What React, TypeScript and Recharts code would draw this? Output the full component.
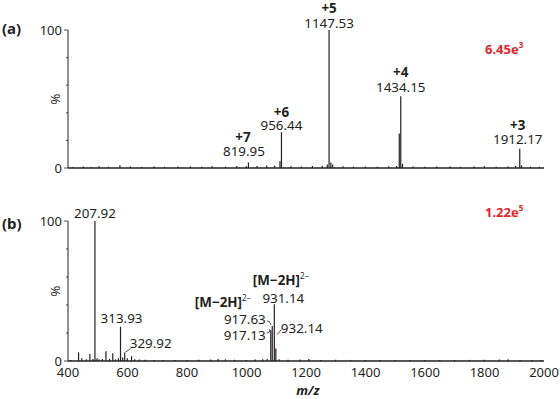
import React from 'react';
import { BarChart, Bar, XAxis, YAxis, LabelList } from 'recharts';

const FONT = '"Noto Sans", "DejaVu Sans", Arial, sans-serif';
const INK = '#231f20';
const RED = '#e3242b';

// ---------- Panel (a) ----------
const aPeakMz = [1007, 1118, 1278, 1519, 1919];
const aPeakInt = [4, 26, 100, 52, 14];
const aChargeLabels = ['+7', '+6', '+5', '+4', '+3'];
const aMassLabels = ['819.95', '956.44', '1147.53', '1434.15', '1912.17'];
const aMinorMz = [
  415, 452, 478, 505, 536, 575, 610, 648, 690, 725,
  770, 812, 850, 885, 930, 968, 1000, 1036, 1068, 1095,
  1113, 1150, 1185, 1222, 1255, 1272, 1284, 1290, 1325, 1360,
  1400, 1440, 1478, 1505, 1514, 1525, 1560, 1600, 1640, 1685,
  1720, 1765, 1800, 1840, 1880, 1905, 1925, 1955, 1985,
];
const aMinorInt = [
  0.8, 1.0, 0.7, 1.2, 0.9, 2.0, 1.0, 0.8, 1.1, 0.9,
  1.0, 1.2, 0.9, 1.3, 1.0, 1.4, 1.2, 1.5, 1.8, 1.6,
  5.0, 1.3, 1.1, 1.4, 1.6, 2.5, 4.0, 2.5, 1.2, 1.0,
  1.1, 0.9, 1.2, 1.4, 25, 3.0, 1.0, 0.9, 1.1, 1.0,
  0.8, 1.0, 1.2, 0.9, 1.1, 1.5, 2.0, 1.0, 0.9,
];
const aScaleLabel = '6.45e';
const aScaleExp = '3';

// ---------- Panel (b) ----------
const bPeakMz = [491, 577, 591, 1082, 1087, 1094, 1099];
const bPeakInt = [100, 24.5, 6, 22, 25, 40.5, 9];
const bMassLabels = ['207.92', '313.93', '329.92', '917.13', '917.63', '931.14', '932.14'];
const bIonLabels = ['', '', '', '', '[M−2H]', '[M−2H]', ''];
const bIonCharge = '2−';
const bMinorMz = [
  410, 436, 447, 462, 474, 484, 498, 505, 516, 528,
  540, 551, 560, 570, 584, 600, 614, 625, 640, 660,
  690, 720, 760, 800, 840, 880, 905, 930, 960, 1000,
  1030, 1055, 1070, 1110, 1140, 1180, 1210, 1250, 1300, 1350,
  1400, 1450, 1500, 1550, 1600, 1650, 1700, 1750, 1800, 1850,
  1880, 1920, 1960, 1990,
];
const bMinorInt = [
  0.8, 6.2, 2.0, 1.2, 5.0, 1.5, 2.0, 1.2, 1.5, 7.0,
  1.5, 5.5, 1.2, 2.0, 2.5, 2.0, 3.5, 1.2, 1.0, 0.9,
  0.8, 0.8, 0.7, 0.8, 0.9, 1.0, 1.5, 1.2, 0.9, 0.8,
  1.0, 1.2, 1.5, 1.2, 0.9, 1.0, 1.4, 0.8, 0.9, 0.8,
  0.7, 0.8, 0.7, 0.8, 0.7, 0.8, 0.7, 0.8, 0.9, 1.0,
  1.3, 0.8, 0.7, 0.8,
];
const bScaleLabel = '1.22e';
const bScaleExp = '5';

// ---------- Axes ----------
const xTicks = [400, 600, 800, 1000, 1200, 1400, 1600, 1800, 2000];
const yTicks = [0, 10, 20, 30, 40, 50, 60, 70, 80, 90, 100];
const xDomain = [400, 2000];
const yDomain = [0, 100];
const xAxisTitle = 'm/z';
const yAxisTitle = '%';

// ---------- data tables ----------
const aData = [
  ...aPeakMz.map((mz, i) => ({ mz, int: aPeakInt[i], mass: aMassLabels[i], top: aChargeLabels[i] })),
  ...aMinorMz.map((mz, i) => ({ mz, int: aMinorInt[i] })),
].sort((p, q) => p.mz - q.mz);

const bData = [
  ...bPeakMz.map((mz, i) => ({ mz, int: bPeakInt[i], mass: bMassLabels[i], ion: bIonLabels[i] })),
  ...bMinorMz.map((mz, i) => ({ mz, int: bMinorInt[i] })),
].sort((p, q) => p.mz - q.mz);

// label layout (offsets in px relative to the top of the peak), style only
type Lay = { num: [number, number]; top?: [number, number]; ion?: [number, number]; leader?: [number, number][] };
const layoutA: Record<string, Lay> = {
  '819.95': { num: [-4.5, -11], top: [-5.5, -25] },
  '956.44': { num: [0, -6.5], top: [0, -20] },
  '1147.53': { num: [0, -7], top: [0, -22] },
  '1434.15': { num: [0, -9], top: [0, -24] },
  '1912.17': { num: [-2, -9], top: [-2, -23] },
};
const layoutB: Record<string, Lay> = {
  '207.92': { num: [0, -8] },
  '313.93': { num: [1, -8] },
  '329.92': { num: [26, -9], leader: [[6, -4], [1, -0.5]] },
  '917.13': { num: [-26, 5], leader: [[-4, 3], [-1.5, 2], [-1, -1]] },
  '917.63': { num: [-27.4, -6.5], ion: [-77.4, -19], leader: [[-5, -5], [-3, -4.5], [-1, -1]] },
  '931.14': { num: [9, -6.3], ion: [-21.5, -19] },
  '932.14': { num: [26, -20.4], leader: [[5.5, -19], [3.5, -16], [1, -14]] },
};

const txt = { fontFamily: FONT, fontSize: 13, fill: INK } as const;
const peakTxt = { fontFamily: FONT, fontSize: 13.4, fill: INK } as const;

const makeLabel = (layout: Record<string, Lay>, data: any[]) => (p: any) => {
  const mass = p.value;
  if (!mass || !layout[mass]) return null;
  const vb = p.viewBox || {};
  const x = Number(p.x ?? vb.x);
  const w = Number(p.width ?? vb.width ?? 0);
  const y = Number(p.y ?? vb.y);
  const h = Number(p.height ?? vb.height ?? 0);
  const cx = x + w / 2;
  const top = h < 0 ? y + h : y;
  const L = layout[mass];
  const d = data.find((e) => e.mass === mass) || {};
  return (
    <g>
      {L.top && d.top && (
        <text x={cx + L.top[0]} y={top + L.top[1] + 4.7} textAnchor="middle" {...peakTxt} fontWeight={700}>
          {d.top}
        </text>
      )}
      {L.ion && d.ion && (
        <text x={cx + L.ion[0]} y={top + L.ion[1]} textAnchor="start" {...peakTxt} fontWeight={700}>
          {d.ion}
          <tspan fontSize={8} dy={-6} fontWeight={400}>{bIonCharge}</tspan>
        </text>
      )}
      <text x={cx + L.num[0]} y={top + L.num[1] + 4.7} textAnchor="middle" {...peakTxt}>
        {mass}
      </text>
      {L.leader && (
        <polyline
          points={L.leader.map(([dx, dy]) => `${cx + dx},${top + dy}`).join(' ')}
          fill="none"
          stroke={INK}
          strokeWidth={0.8}
        />
      )}
    </g>
  );
};

const YTick = (p: any) => {
  const v = p.payload?.value;
  const major = v === 0 || v === 100;
  return (
    <g>
      <line x1={p.x - (major ? 4 : 2)} x2={p.x} y1={p.y} y2={p.y} stroke={INK} strokeWidth={0.8} />
      {major && (
        <text x={p.x - 6} y={p.y + 4.6} textAnchor="end" {...txt}>
          {v}
        </text>
      )}
    </g>
  );
};

export default function App() {
  return (
    <div style={{ position: 'absolute', left: 0, top: 0, width: 560, height: 399, background: '#fff', fontFamily: FONT }}>
      <div style={{ position: 'absolute', left: 0, top: 0 }}>
        <BarChart width={560} height={185} data={aData} margin={{ top: 30, right: 16, bottom: 7, left: 28 }}>
          <XAxis
            dataKey="mz"
            type="number"
            domain={xDomain}
            ticks={xTicks}
            tick={false}
            tickLine={false}
            height={10}
            axisLine={{ stroke: INK, strokeWidth: 1.5 }}
            allowDataOverflow
          />
          <YAxis
            type="number"
            domain={yDomain}
            ticks={yTicks}
            width={40}
            tickSize={0}
            tickMargin={0}
            tickLine={false}
            tick={<YTick />}
            axisLine={{ stroke: INK, strokeWidth: 1 }}
            label={{ value: yAxisTitle, angle: -90, position: 'center', dx: 7, fill: INK, fontSize: 13, fontFamily: FONT }}
          />
          <Bar dataKey="int" fill={INK} barSize={1.2} isAnimationActive={false}>
            <LabelList dataKey="mass" content={makeLabel(layoutA, aData)} />
          </Bar>
        </BarChart>
      </div>
      <div style={{ position: 'absolute', left: 0, top: 190 }}>
        <BarChart width={560} height={209} data={bData} margin={{ top: 31, right: 16, bottom: 0, left: 28 }}>
          <XAxis
            dataKey="mz"
            type="number"
            domain={xDomain}
            ticks={xTicks}
            tickSize={3}
            tickMargin={4}
            tickLine={false}
            tick={{ fill: INK, fontSize: 13, fontFamily: FONT }}
            height={38}
            axisLine={{ stroke: INK, strokeWidth: 1.5 }}
            allowDataOverflow
          />
          <YAxis
            type="number"
            domain={yDomain}
            ticks={yTicks}
            width={40}
            tickSize={0}
            tickMargin={0}
            tickLine={false}
            tick={<YTick />}
            axisLine={{ stroke: INK, strokeWidth: 1 }}
            label={{ value: yAxisTitle, angle: -90, position: 'center', dx: 7, fill: INK, fontSize: 13, fontFamily: FONT }}
          />
          <Bar dataKey="int" fill={INK} barSize={1.2} isAnimationActive={false}>
            <LabelList dataKey="mass" content={makeLabel(layoutB, bData)} />
          </Bar>
        </BarChart>
      </div>
      <svg width={560} height={399} style={{ position: 'absolute', left: 0, top: 0, pointerEvents: 'none' }}>
        <text x={2} y={34} fontFamily={FONT} fontSize={15} fill={INK} fontWeight={700}>(a)</text>
        <text x={2} y={229} fontFamily={FONT} fontSize={15} fill={INK} fontWeight={700}>(b)</text>
        <text x={308} y={395} textAnchor="middle" fontFamily={FONT} fontSize={13} fill={INK} fontWeight={700} fontStyle="italic">
          {xAxisTitle}
        </text>
        <text x={485} y={54} fontFamily={FONT} fontSize={13} fontWeight={700} fill={RED}>
          {aScaleLabel}
          <tspan fontSize={8} dy={-6}>{aScaleExp}</tspan>
        </text>
        <text x={485} y={217} fontFamily={FONT} fontSize={13} fontWeight={700} fill={RED}>
          {bScaleLabel}
          <tspan fontSize={8} dy={-6}>{bScaleExp}</tspan>
        </text>
      </svg>
    </div>
  );
}
